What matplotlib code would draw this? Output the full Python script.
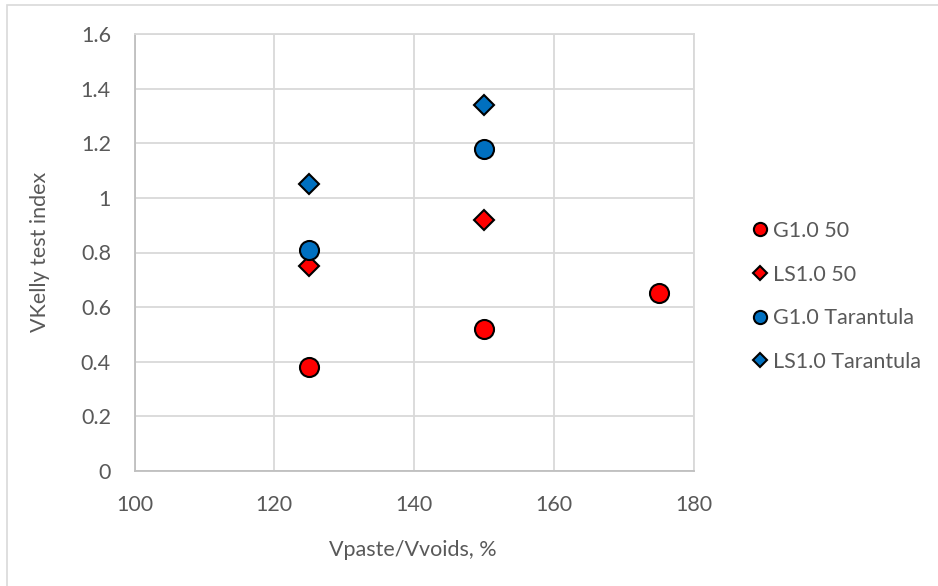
import matplotlib
matplotlib.use("Agg")
import matplotlib.pyplot as plt
from matplotlib.patches import Rectangle

plt.rcParams['font.family'] = ['Lato', 'DejaVu Sans']

x_g50 = [125, 150, 175]
y_g50 = [0.38, 0.52, 0.65]
x_ls50 = [125, 150]
y_ls50 = [0.75, 0.92]
x_gt = [125, 150]
y_gt = [0.81, 1.18]
x_lst = [125, 150]
y_lst = [1.05, 1.34]
labels = ["G1.0 50", "LS1.0 50", "G1.0 Tarantula", "LS1.0 Tarantula"]
xticks = [100, 120, 140, 160, 180]
yticks = [0, 0.2, 0.4, 0.6, 0.8, 1.0, 1.2, 1.4, 1.6]
yticklabels = ["0", "0.2", "0.4", "0.6", "0.8", "1", "1.2", "1.4", "1.6"]

W, H = 938, 586
fig = plt.figure(figsize=(W / 100, H / 100), dpi=100)
L, R, T, B = 134.5, 693.5, 34, 471
ax = fig.add_axes([L / W, 1 - B / H, (R - L) / W, (B - T) / H])

# outer chart border (only left/top visible)
fig.patches.append(Rectangle((7 / W, -0.1), 1.2, 1 - 5 / H + 0.1,
                             transform=fig.transFigure, fill=False,
                             edgecolor='#d9d9d9', linewidth=1.2))

red = '#ff0000'
blue = '#0070c0'
ax.plot(x_g50, y_g50, 'o', ms=13.7, mfc=red, mec='black', mew=1.5, label=labels[0], zorder=3)
ax.plot(x_ls50, y_ls50, 'D', ms=9.7, mfc=red, mec='black', mew=1.5, label=labels[1], zorder=3)
ax.plot(x_gt, y_gt, 'o', ms=13.7, mfc=blue, mec='black', mew=1.5, label=labels[2], zorder=3)
ax.plot(x_lst, y_lst, 'D', ms=9.7, mfc=blue, mec='black', mew=1.5, label=labels[3], zorder=3)

ax.set_xlim(100, 180)
ax.set_ylim(0, 1.6)
ax.set_xticks(xticks)
ax.set_yticks(yticks)
ax.set_yticklabels(yticklabels)
ax.grid(True, color='#d9d9d9', linewidth=1.3)
ax.set_axisbelow(True)
for s in ax.spines.values():
    s.set_color('#d9d9d9')
    s.set_linewidth(1.3)
ax.spines['left'].set_color('#bfbfbf')
ax.spines['bottom'].set_color('#bfbfbf')
ax.tick_params(length=0, labelsize=15.5, labelcolor='#595959')
ax.tick_params(axis='x', pad=17)
ax.tick_params(axis='y', pad=17)

fig.text(40 / W, 1 - 252 / H, "VKelly test index", rotation=90, ha='center', va='center',
         fontsize=15.5, color='#595959')
fig.text(413 / W, 1 - 550 / H, "Vpaste/Vvoids, %", ha='center', va='center',
         fontsize=15.5, color='#595959')

leg = fig.legend(loc='center left', bbox_to_anchor=(750 / W, 1 - 296.5 / H),
                 frameon=False, fontsize=15.5, labelcolor='#595959',
                 handlelength=0.9, handletextpad=0.15, labelspacing=1.1,
                 borderpad=0, borderaxespad=0)
for h in leg.legend_handles:
    h.set_markersize(9.5 if h.get_marker() == 'o' else 7)

fig.savefig("out.png", dpi=100)
